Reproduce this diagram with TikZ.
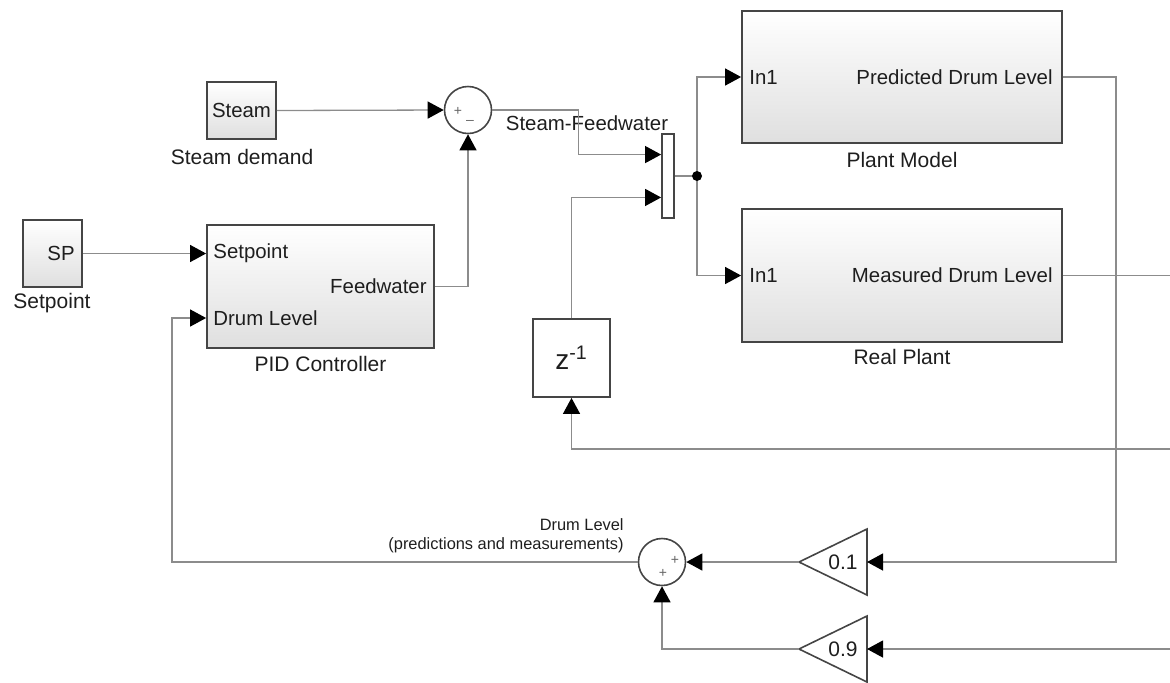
\documentclass[tikz,border=0pt]{standalone}
\usepackage{fontspec}
\setmainfont{Liberation Sans}
\usetikzlibrary{arrows.meta,calc,shadows}
\definecolor{wire}{HTML}{8C8C8C}
\definecolor{bedge}{HTML}{454545}
\definecolor{txt}{HTML}{1E1E1E}
\begin{document}
\begin{tikzpicture}[x=0.5pt,y=-0.5pt,
  every node/.style={inner sep=0pt, text=txt, font=\fontsize{10.2}{12}\selectfont},
  blk/.style={draw=bedge, line width=0.9pt, top color=white, bottom color=gray!25,
              drop shadow={shadow xshift=0.7pt, shadow yshift=-0.7pt, opacity=0.25, fill=black}},
  plainblk/.style={draw=bedge, line width=0.9pt, fill=white,
              drop shadow={shadow xshift=0.7pt, shadow yshift=-0.7pt, opacity=0.25, fill=black}},
  sumc/.style={circle, draw=bedge, line width=0.8pt, fill=white, minimum size=23.5pt},
  sign/.style={font=\fontsize{7}{8}\selectfont, text=gray!80!black},
  wireln/.style={draw=wire, line width=0.65pt},
  arr/.style={wireln, -{Triangle[length=8pt,width=8.5pt,color=black]}},
  gainst/.style={draw=bedge, line width=0.8pt, fill=white}
]
\useasboundingbox (0,0) rectangle (1170,682);

% Steam source
\node[blk, minimum width=34.5pt, minimum height=28.5pt] (steam) at (241.5,110.5) {Steam};
\node[font=\fontsize{10.5}{12}\selectfont] (steamlbl) at (242,157) {Steam demand};

% Setpoint source
\node[blk, minimum width=29.5pt, minimum height=33.5pt] (sp) at (52.5,253.5) {};
\node (sptxt) at (61,253) {SP};
\node[font=\fontsize{10.5}{12}\selectfont] (splbl) at (52,303) {Setpoint};

% PID controller
\node[blk, minimum width=113.5pt, minimum height=61.5pt] (pid) at (320.5,286.5) {};
\node[anchor=west] (pidsp) at (213,253) {Setpoint};
\node[anchor=west] (piddl) at (213,318) {Drum Level};
\node[anchor=east] (pidfw) at (427,286) {Feedwater};
\node[font=\fontsize{10.5}{12}\selectfont] (pidlbl) at (320.5,364) {PID Controller};
\coordinate (pidin2) at ($(pid.west)+(0,31.5)$);

% Sum 1
\node[sumc] (sum1) at (468,110) {};
\node[sign] (s1a) at (458,111) {+};
\node[sign] (s1b) at (470,122) {–};

% Mux
\node[plainblk, minimum width=6pt, minimum height=42pt] (mux) at (668,176) {};
\coordinate (muxin1) at ($(mux.north west)!0.25!(mux.south west)$);
\coordinate (muxin2) at ($(mux.north west)!0.75!(mux.south west)$);
\node[font=\fontsize{10.2}{12}\selectfont] (sfw) at (587,123) {Steam-Feedwater};
\coordinate (dot) at (697,176);

% Plant model
\node[blk, minimum width=160pt, minimum height=66pt] (plant) at (902,77) {};
\node[anchor=west] (plin) at (749,77) {In1};
\node[anchor=east] (plout) at (1053,77) {Predicted Drum Level};
\node[font=\fontsize{10.5}{12}\selectfont] (pllbl) at (902,160) {Plant Model};

% Real plant
\node[blk, minimum width=160pt, minimum height=66.5pt] (real) at (902,275.5) {};
\node[anchor=west] (rpin) at (749,275.5) {In1};
\node[anchor=east] (rpout) at (1053,275.5) {Measured Drum Level};
\node[font=\fontsize{10.5}{12}\selectfont] (rplbl) at (902,357) {Real Plant};

% Unit delay
\node[plainblk, minimum width=38.5pt, minimum height=39pt] (zd) at (571.5,358) {\fontsize{14}{16}\selectfont z\textsuperscript{-1}};

% Sum 2
\node[sumc] (sum2) at (662,562) {};
\node[sign] (s2a) at (675,560) {+};
\node[sign] (s2b) at (663,573) {+};

% Gains
\draw[gainst] (867,529) -- (867,595) -- (799,562) -- cycle;
\node[font=\fontsize{10.5}{12}\selectfont] (g1) at (843,562) {0.1};
\coordinate (g1in) at (867,562);
\coordinate (g1out) at (799,562);
\draw[gainst] (867,616) -- (867,682) -- (799,649) -- cycle;
\node[font=\fontsize{10.5}{12}\selectfont] (g2) at (843,649) {0.9};
\coordinate (g2in) at (867,649);
\coordinate (g2out) at (799,649);

% Drum level label
\node[font=\fontsize{8.2}{9.5}\selectfont, align=right, anchor=south east] (dllbl) at (624,553) {Drum Level\\(predictions and measurements)};

% Free ends at the right edge
\coordinate (pcorner) at (1116,562);
\coordinate (realout) at (1170,275.5);
\coordinate (fbin) at (1170,449);
\coordinate (g2src) at (1170,649);

% Connectors
\draw[arr] (steam.east) -- (sum1.west);
\draw[arr] (sp.east) -- (sp.east -| pid.west);
\draw[arr] (pid.east) -| (sum1.south);
\draw[arr] (sum1.east) -- ++(86.5,0) |- (muxin1);
\draw[arr] (zd.north) |- (muxin2);
\draw[wireln] (mux.east) -- (dot);
\draw[arr] (dot) |- (plant.west);
\draw[arr] (dot) |- (real.west);
\draw[arr] (plant.east) -| (pcorner) -- (g1in);
\draw[wireln] (real.east) -- (realout);
\draw[arr] (fbin) -| (zd.south);
\draw[arr] (g2src) -- (g2in);
\draw[arr] (g1out) -- (sum2.east);
\draw[arr] (g2out) -| (sum2.south);
\draw[arr] (sum2.west) -| ($(pidin2)+(-34,0)$) -- (pidin2);

% Branch point dot (on top of the wires)
\node[circle, fill=black, minimum size=5pt] (dotmark) at (dot) {};
\end{tikzpicture}
\end{document}
